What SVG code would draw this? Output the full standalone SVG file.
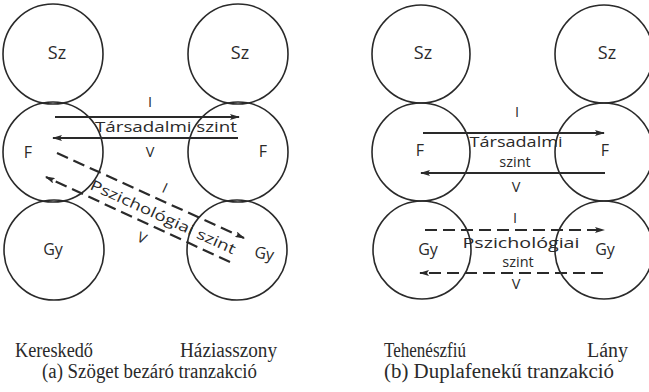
<svg xmlns="http://www.w3.org/2000/svg" width="649" height="392" viewBox="0 0 649 392">
<style>
  .c { fill: none; stroke: #2a2a2a; stroke-width: 1.6; }
  .ln { fill: none; stroke: #2a2a2a; stroke-width: 2.2; }
  .dash { stroke-dasharray: 12 6; }
  .lbl { font-family: "Open Sans", "DejaVu Sans", sans-serif; fill: #2a2a2a; font-size: 16px; text-anchor: middle; }
  .big { font-size: 18px; }
  .sm { font-size: 14.5px; }
  .cap { font-family: "Liberation Serif", serif; fill: #2a2a2a; font-size: 20px; }
</style>
<defs>
  <marker id="ah" viewBox="0 0 10 6" refX="9" refY="3" markerWidth="10" markerHeight="6" markerUnits="userSpaceOnUse" orient="auto">
    <path d="M0,0 L10,3 L0,6 L2,3 Z" fill="#2a2a2a"/>
  </marker>
</defs>
<rect width="649" height="392" fill="#fff"/>

<!-- (a) left person: Kereskedő -->
<g id="a-left-Sz"><circle class="c" cx="53" cy="54" r="50"/><text class="lbl big" x="57" y="59">Sz</text></g>
<g id="a-left-F"><circle class="c" cx="53" cy="152" r="50"/><text class="lbl" x="28" y="158">F</text></g>
<g id="a-left-Gy"><circle class="c" cx="54" cy="250" r="50"/><text class="lbl" x="53" y="255">Gy</text></g>
<!-- (a) right person: Háziasszony -->
<g id="a-right-Sz"><circle class="c" cx="238" cy="54" r="50"/><text class="lbl big" x="240" y="59">Sz</text></g>
<g id="a-right-F"><circle class="c" cx="238" cy="152" r="50"/><text class="lbl" x="263" y="157">F</text></g>
<g id="a-right-Gy"><circle class="c" cx="237" cy="250" r="50"/><text class="lbl" x="264" y="259" transform="rotate(10 264 255)">Gy</text></g>

<!-- (b) left person: Tehenészfiú -->
<g id="b-left-Sz"><circle class="c" cx="421" cy="54" r="49"/><text class="lbl big" x="423" y="59">Sz</text></g>
<g id="b-left-F"><circle class="c" cx="421" cy="152" r="49"/><text class="lbl" x="420" y="156">F</text></g>
<g id="b-left-Gy"><circle class="c" cx="422" cy="250" r="49"/><text class="lbl" x="428" y="255">Gy</text></g>
<!-- (b) right person: Lány -->
<g id="b-right-Sz"><circle class="c" cx="604" cy="54" r="49"/><text class="lbl big" x="607" y="59">Sz</text></g>
<g id="b-right-F"><circle class="c" cx="604" cy="152" r="49"/><text class="lbl" x="605" y="156">F</text></g>
<g id="b-right-Gy"><circle class="c" cx="604" cy="250" r="49"/><text class="lbl" x="605" y="255">Gy</text></g>

<g id="connectors">
  <!-- (a) social level -->
  <line class="ln" x1="55" y1="117" x2="239" y2="117" marker-end="url(#ah)"/>
  <line class="ln" x1="238" y1="138" x2="53" y2="138" marker-end="url(#ah)"/>
  <!-- (a) psychological level (diagonal) -->
  <line class="ln dash" x1="57" y1="153" x2="244" y2="238" marker-end="url(#ah)"/>
  <line class="ln dash" x1="230" y1="262" x2="46" y2="177" marker-end="url(#ah)"/>
  <!-- (b) social level -->
  <line class="ln" x1="423" y1="133" x2="604" y2="133" marker-end="url(#ah)"/>
  <line class="ln" x1="605" y1="173" x2="421" y2="173" marker-end="url(#ah)"/>
  <!-- (b) psychological level -->
  <line class="ln dash" x1="425" y1="230" x2="604" y2="230" marker-end="url(#ah)"/>
  <line class="ln dash" x1="603" y1="273" x2="420" y2="273" marker-end="url(#ah)"/>
</g>

<g id="labels-a">
  <text class="lbl sm" x="150" y="107">I</text>
  <text class="lbl sm" x="166" y="132" textLength="142" lengthAdjust="spacingAndGlyphs">Társadalmi szint</text>
  <text class="lbl sm" x="150" y="157">V</text>
  <text class="lbl sm" x="165" y="193" transform="rotate(24.6 165 188)">I</text>
  <text class="lbl sm" x="163" y="222" transform="rotate(24.6 163 217)" textLength="158" lengthAdjust="spacingAndGlyphs">Pszichológiai szint</text>
  <text class="lbl sm" x="142" y="243" transform="rotate(24.6 142 238)">V</text>
</g>
<g id="labels-b">
  <text class="lbl sm" x="517" y="117">I</text>
  <text class="lbl sm" x="516" y="147" textLength="93" lengthAdjust="spacingAndGlyphs">Társadalmi</text>
  <text class="lbl sm" x="515" y="167">szint</text>
  <text class="lbl sm" x="516" y="192">V</text>
  <text class="lbl sm" x="515" y="223">I</text>
  <text class="lbl sm" x="521" y="248" textLength="117" lengthAdjust="spacingAndGlyphs">Pszichológiai</text>
  <text class="lbl sm" x="518" y="267">szint</text>
  <text class="lbl sm" x="516" y="289">V</text>
</g>

<g id="captions">
  <text class="cap" x="15" y="357" textLength="78" lengthAdjust="spacingAndGlyphs">Kereskedő</text>
  <text class="cap" x="180" y="357" textLength="97" lengthAdjust="spacingAndGlyphs">Háziasszony</text>
  <text class="cap" x="42" y="378" textLength="215" lengthAdjust="spacingAndGlyphs">(a) Szöget bezáró tranzakció</text>
  <text class="cap" x="384" y="357" textLength="82" lengthAdjust="spacingAndGlyphs">Tehenészfiú</text>
  <text class="cap" x="587" y="357" textLength="41" lengthAdjust="spacingAndGlyphs">Lány</text>
  <text class="cap" x="384" y="378" textLength="230" lengthAdjust="spacingAndGlyphs">(b) Duplafenekű tranzakció</text>
</g>
</svg>
